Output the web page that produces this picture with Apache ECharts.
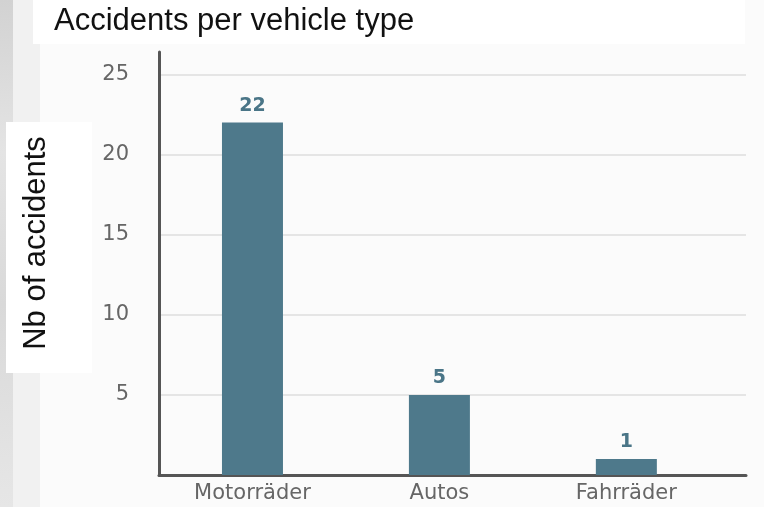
<!DOCTYPE html>
<html>
<head>
<meta charset="utf-8">
<script src="https://cdn.jsdelivr.net/npm/echarts@6/dist/echarts.min.js"></script>
<style>
  html, body { margin: 0; padding: 0; background: #fbfbfb; }
  #chart { width: 764px; height: 507px; }
</style>
</head>
<body>
<div id="chart"></div>
<script>
// Vehicle categories and the accident counts for each
const categories = ['Motorräder', 'Autos', 'Fahrräder'];
const accidents = [22, 5, 1];
const yTicks = [5, 10, 15, 20, 25];

const barColor = '#4e798b';
const axisColor = '#555555';
const tickFont = 'DejaVu Sans';

const chart = echarts.init(document.getElementById('chart'), null, { renderer: 'canvas' });

chart.setOption({
  backgroundColor: '#fbfbfb',
  animation: false,
  title: {
    text: 'Accidents per vehicle type',
    left: 54,
    top: 6,
    padding: 0,
    textStyle: { fontFamily: 'Liberation Sans', fontSize: 31, fontWeight: 'normal', color: '#111' }
  },
  graphic: [
    // greyish strip along the left edge
    {
      type: 'rect', z: -10, silent: true,
      shape: { x: 0, y: 0, width: 13, height: 507 },
      style: {
        fill: new echarts.graphic.LinearGradient(0, 0, 0, 1, [
          { offset: 0, color: '#d2d2d2' },
          { offset: 0.3, color: '#e4e4e4' },
          { offset: 0.6, color: '#d9d9d9' },
          { offset: 1, color: '#e6e6e6' }
        ])
      }
    },
    {
      type: 'rect', z: -10, silent: true,
      shape: { x: 13, y: 0, width: 27, height: 507 },
      style: { fill: '#f1f1f1' }
    },
    // white panels behind the titles
    {
      type: 'rect', z: -5, silent: true,
      shape: { x: 33, y: 0, width: 712, height: 44 },
      style: { fill: '#ffffff' }
    },
    {
      type: 'rect', z: -5, silent: true,
      shape: { x: 6, y: 122, width: 86, height: 251 },
      style: { fill: '#ffffff' }
    },
    {
      type: 'text', z: 10, silent: true,
      x: 36, y: 243, rotation: Math.PI / 2,
      style: {
        text: 'Nb of accidents',
        fontFamily: 'Liberation Sans', fontSize: 31,
        fill: '#111', align: 'center', verticalAlign: 'middle'
      }
    }
  ],
  grid: { left: 159, right: 18, top: 52, bottom: 32, containLabel: false },
  xAxis: {
    type: 'value',
    min: -0.5,
    max: 2.64,
    interval: 0.5,
    splitLine: { show: false },
    axisTick: { show: false },
    axisLine: { show: true, onZero: false, lineStyle: { color: axisColor, width: 3 } },
    axisLabel: {
      show: true,
      margin: 8,
      showMinLabel: true,
      showMaxLabel: false,
      fontFamily: tickFont,
      fontSize: 21,
      color: '#666',
      formatter: v => (Number.isInteger(v) && categories[v] !== undefined) ? categories[v] : ''
    }
  },
  yAxis: {
    type: 'value',
    min: 0,
    max: 26.4,
    interval: 5,
    axisTick: { show: false },
    axisLine: { show: true, onZero: false, lineStyle: { color: axisColor, width: 3 } },
    splitLine: { show: true, showMinLine: false, showMaxLine: false, lineStyle: { color: '#dedede', width: 1.5 } },
    axisLabel: {
      margin: 30,
      fontFamily: tickFont,
      fontSize: 21,
      color: '#666',
      showMaxLabel: false,
      formatter: v => yTicks.includes(v) ? String(v) : ''
    }
  },
  series: [{
    type: 'bar',
    barWidth: 61,
    data: categories.map((c, i) => [i, accidents[i]]),
    itemStyle: { color: barColor },
    label: {
      show: true,
      position: 'top',
      distance: 7,
      fontFamily: tickFont,
      fontSize: 19,
      fontWeight: 'bold',
      color: '#4a7587',
      formatter: p => String(p.value[1])
    }
  }]
});
</script>
</body>
</html>
